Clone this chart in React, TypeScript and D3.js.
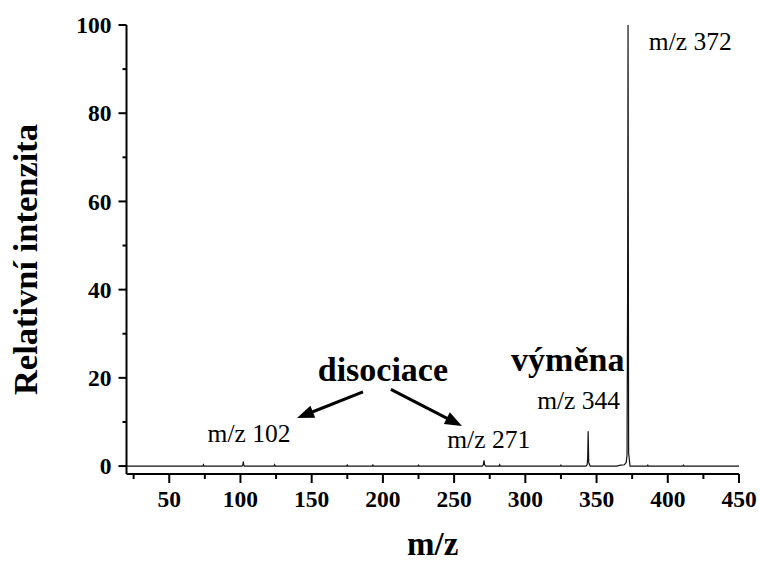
import React from "react";
import * as d3 from "d3";

// Spectrum data (m/z, relative intensity)
const mz = [20, 73.6, 74, 74.4, 101.2, 101.7, 102, 102.3, 102.8, 123.6, 124, 124.4, 174.6, 175, 175.4, 192.6, 193, 193.4, 224.6, 225, 225.4, 269.8, 270.5, 271, 271.4, 272.2, 281.6, 282, 282.4, 324.6, 325, 325.4, 342.6, 343.4, 343.8, 344.1, 344.5, 345.5, 364, 367, 369.5, 370.8, 371.4, 371.8, 372.1, 372.5, 373.5, 385.6, 386, 386.4, 410.6, 411, 411.4, 450];
const intensity = [0, 0, 0.3, 0, 0, 0.3, 1.0, 0.3, 0, 0, 0.3, 0, 0, 0.25, 0, 0, 0.25, 0, 0, 0.2, 0, 0, 0.3, 1.3, 0.3, 0, 0, 0.3, 0, 0, 0.2, 0, 0, 0.3, 2, 7.9, 0.8, 0, 0, 0.2, 0.3, 0.8, 2.5, 40, 100, 3, 0, 0, 0.2, 0, 0, 0.2, 0, 0];

const xMajorTicks = [50, 100, 150, 200, 250, 300, 350, 400, 450];
const xMinorTicks = [25, 75, 125, 175, 225, 275, 325, 375, 425];
const yMajorTicks = [0, 20, 40, 60, 80, 100];
const yMinorTicks = [10, 30, 50, 70, 90];

// Peak labels [text, x, y] in data coordinates
const peakLabels: [string, number, number][] = [
  ["m/z 102", 106, 5.4],
  ["m/z 271", 274.3, 4.1],
  ["m/z 344", 337.4, 12.9],
  ["m/z 372", 415.8, 94.3],
];
const groupLabels: [string, number, number][] = [
  ["disociace", 200, 19.3],
  ["výměna", 329.8, 21.5],
];
// arrows [x1, y1, x2(tip), y2(tip)]
const arrows: [number, number, number, number][] = [
  [186, 16.8, 139.7, 10.9],
  [205.6, 17.4, 255.5, 9.1],
];

const W = 760, H = 561;
const FONT = "'Liberation Serif', 'Times New Roman', serif";

export default function App() {
  const x = d3.scaleLinear().domain([20, 450]).range([126.5, 739]);
  const y = d3.scaleLinear().domain([-1.8, 100]).range([474, 25]);
  const line = d3
    .line<number>()
    .x((_, i) => x(mz[i]))
    .y((d) => y(d));
  const path = line(intensity) || "";

  const axisY = y(-1.8);
  const axisX = x(20);

  const arrowEls = arrows.map(([a, b, c, d], i) => {
    const x1 = x(a), y1 = y(b), x2 = x(c), y2 = y(d);
    const dx = x2 - x1, dy = y2 - y1;
    const len = Math.hypot(dx, dy);
    const ux = dx / len, uy = dy / len;
    const hl = 17, hw = 6.5;
    const bx = x2 - ux * hl, by = y2 - uy * hl;
    const pts = [
      [x2, y2],
      [bx - uy * hw, by + ux * hw],
      [bx + uy * hw, by - ux * hw],
    ];
    return (
      <g key={"ar" + i}>
        <line x1={x1} y1={y1} x2={bx + ux * 2} y2={by + uy * 2} stroke="#000" strokeWidth={3} />
        <polygon points={pts.map((p) => p.join(",")).join(" ")} fill="#000" />
      </g>
    );
  });

  return (
    <svg width={W} height={H} style={{ position: "absolute", left: 0, top: 0, background: "#fff" }} fontFamily={FONT}>
      {/* spectrum */}
      <path d={path} fill="none" stroke="#111" strokeWidth={1.2} />
      {/* axes */}
      <line x1={axisX} x2={axisX} y1={y(100)} y2={axisY} stroke="#000" strokeWidth={2} />
      <line x1={axisX} x2={x(450)} y1={axisY} y2={axisY} stroke="#000" strokeWidth={2} />
      {yMajorTicks.map((t) => (
        <g key={"ym" + t}>
          <line x1={axisX - 8} x2={axisX} y1={y(t)} y2={y(t)} stroke="#000" strokeWidth={2} />
          <text x={axisX - 15} y={y(t)} dy="0.35em" textAnchor="end" fontWeight="bold" fontSize={23.5}>{t}</text>
        </g>
      ))}
      {yMinorTicks.map((t) => (
        <line key={"yn" + t} x1={axisX - 4} x2={axisX} y1={y(t)} y2={y(t)} stroke="#000" strokeWidth={2} />
      ))}
      {xMajorTicks.map((t) => (
        <g key={"xm" + t}>
          <line x1={x(t)} x2={x(t)} y1={axisY} y2={axisY + 9} stroke="#000" strokeWidth={2} />
          <text x={x(t)} y={axisY + 33} textAnchor="middle" fontWeight="bold" fontSize={23.5}>{t}</text>
        </g>
      ))}
      {xMinorTicks.map((t) => (
        <line key={"xn" + t} x1={x(t)} x2={x(t)} y1={axisY} y2={axisY + 5} stroke="#000" strokeWidth={2} />
      ))}
      {/* axis titles */}
      <text transform={`translate(37,${(y(100) + axisY) / 2 + 10}) rotate(-90)`} textAnchor="middle" fontWeight="bold" fontSize={34.5}>Relativní intenzita</text>
      <text x={(x(20) + x(450)) / 2} y={555} textAnchor="middle" fontWeight="bold" fontSize={33}>m/z</text>
      {/* annotations */}
      {peakLabels.map(([s, vx, vy]) => (
        <text key={s} x={x(vx)} y={y(vy)} textAnchor="middle" fontSize={25.5}>{s}</text>
      ))}
      {groupLabels.map(([s, vx, vy]) => (
        <text key={s} x={x(vx)} y={y(vy)} textAnchor="middle" fontWeight="bold" fontSize={34}>{s}</text>
      ))}
      {arrowEls}
    </svg>
  );
}
